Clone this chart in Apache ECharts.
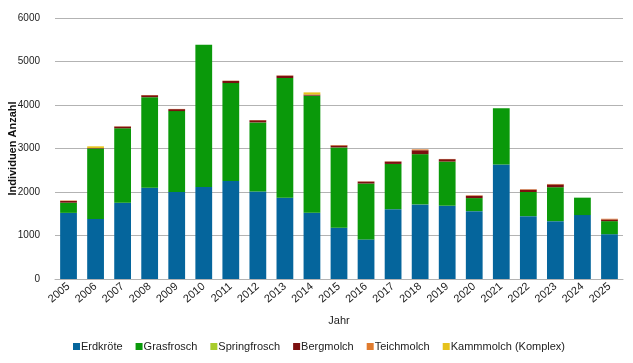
<!DOCTYPE html>
<html>
<head>
<meta charset="utf-8">
<script src="https://cdn.jsdelivr.net/npm/echarts@6/dist/echarts.min.js"></script>
<style>html,body{margin:0;padding:0;background:#fff}#c{width:633px;height:363px}</style>
</head>
<body>
<div id="c"></div>
<script>
const years = ['2005','2006','2007','2008','2009','2010','2011','2012','2013','2014','2015','2016','2017','2018','2019','2020','2021','2022','2023','2024','2025'];
const erdkroete   = [1520,1380,1755,2100,2000,2115,2255,2010,1870,1525,1180, 910,1605,1715,1685,1560,2635,1445,1330,1470,1030];
const grasfrosch  = [ 235,1620,1710,2080,1860,3270,2250,1590,2750,2690,1845,1285,1040,1155,1015, 300,1290, 555, 780, 400, 300];
const springfrosch= [   0,   0,   0,   0,   0,   0,   0,   0,   0,   0,   0,   0,   0,   0,   0,   0,   0,   0,   0,   0,   0];
const bergmolch   = [  40,  10,  40,  45,  45,   0,  50,  50,  55,  25,  45,  45,  55,  90,  55,  55,   0,  55,  65,   0,  40];
const teichmolch  = [  10,   0,   5,   5,   5,   0,   5,   5,   5,   0,  10,   5,   5,  20,   5,  10,   0,  10,  10,   0,  15];
const kammmolch   = [   0,  40,   0,   0,   0,   0,   0,   0,   0,  50,   0,   0,   0,   0,   0,   0,   0,   0,   0,   0,   0];
const yTicks = [0,1000,2000,3000,4000,5000,6000];

const names = ['Erdkröte','Grasfrosch','Springfrosch','Bergmolch','Teichmolch','Kammmolch (Komplex)'];
const colors = ['#05659c','#0a990a','#a8cc2c','#7c1010','#e07b2e','#e6c21c'];
const dataArr = [erdkroete,grasfrosch,springfrosch,bergmolch,teichmolch,kammmolch];
const font = 'Liberation Sans, Arial, sans-serif';

const chart = echarts.init(document.getElementById('c'));
chart.setOption({
  animation:false,
  color: colors,
  grid:{left:55,right:10,top:18,bottom:84,containLabel:false,outerBoundsMode:'none'},
  legend:{
    bottom:6,left:68,itemWidth:7,itemHeight:7,itemGap:13,
    icon:'rect',
    textStyle:{fontFamily:font,fontSize:11,color:'#222',padding:[0,0,0,-4]},
    data:names
  },
  xAxis:{
    type:'category',data:years,
    name:'Jahr',nameLocation:'middle',nameGap:36,nameMoveOverlap:false,
    nameTextStyle:{fontFamily:font,fontSize:11,color:'#222'},
    axisLine:{lineStyle:{color:'#b3b3b3'}},
    axisTick:{show:false},
    axisLabel:{rotate:40,fontFamily:font,fontSize:11,color:'#222',margin:6}
  },
  yAxis:{
    type:'value',min:yTicks[0],max:yTicks[yTicks.length-1],interval:1000,
    name:'Individuen Anzahl',nameLocation:'middle',nameGap:37,nameMoveOverlap:false,
    nameTextStyle:{fontFamily:font,fontSize:11,fontWeight:'bold',color:'#111'},
    axisLine:{show:false},axisTick:{show:false},
    axisLabel:{fontFamily:font,fontSize:10,color:'#222',margin:15,formatter:v=>String(v)},
    splitLine:{lineStyle:{color:'#b3b3b3',width:1}}
  },
  series: names.map((n,i)=>({
    name:n,type:'bar',stack:'a',data:dataArr[i],
    barCategoryGap:'38%',
    itemStyle:{color:colors[i]}
  }))
});
</script>
</body>
</html>
